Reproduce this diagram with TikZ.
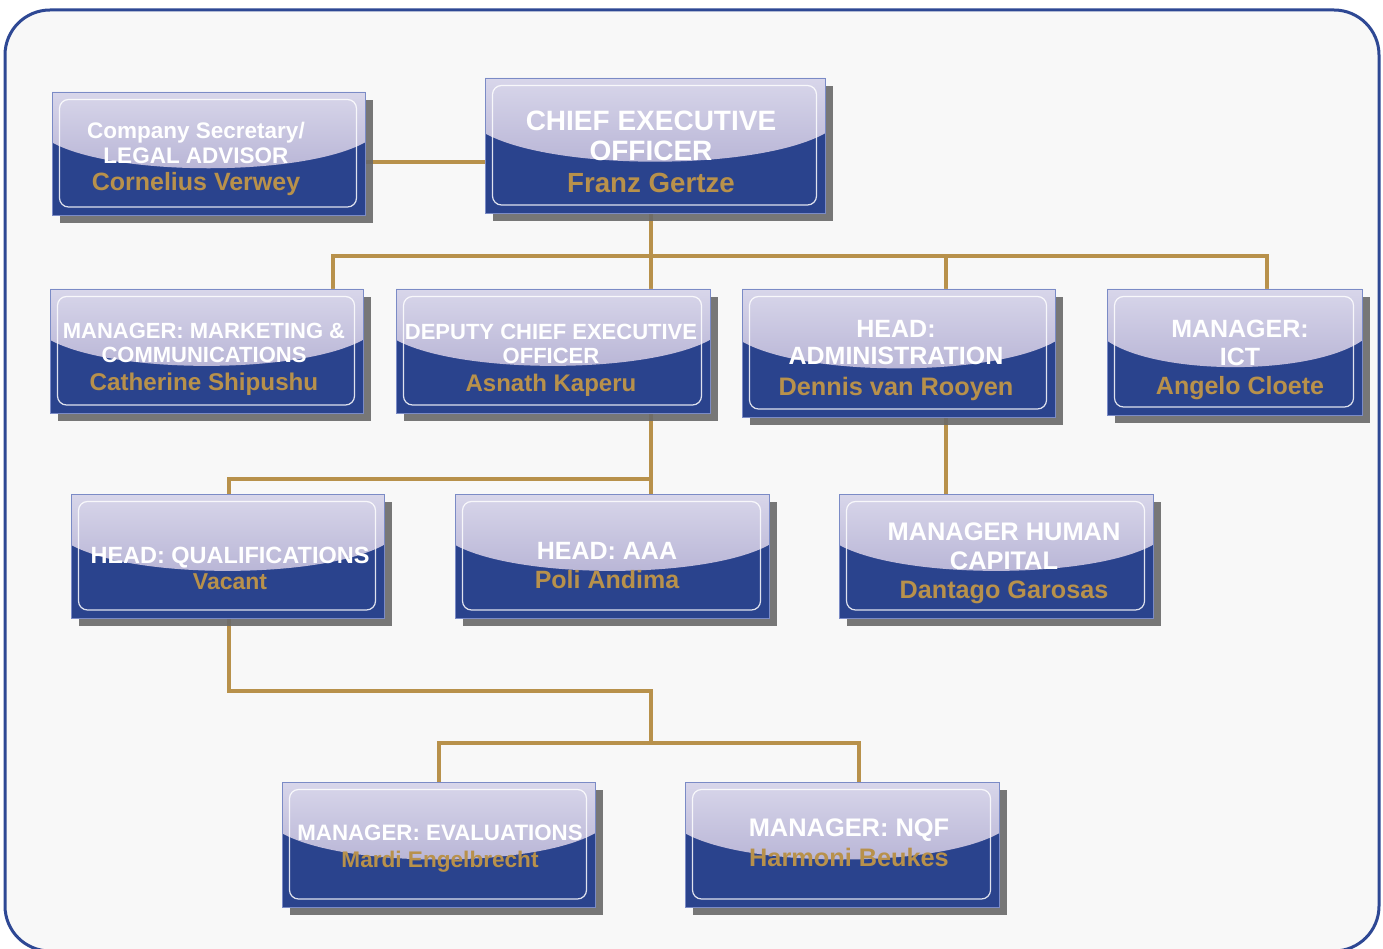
\documentclass[tikz,border=0pt]{standalone}
\usepackage{fontspec}
\setmainfont{Liberation Sans}
\usetikzlibrary{calc,shadows}
\definecolor{boxblue}{HTML}{2A438D}
\definecolor{boxedge}{HTML}{7B8BC6}
\definecolor{gold}{HTML}{B8914B}
\definecolor{frameblue}{HTML}{2E4894}
\definecolor{bgfill}{HTML}{F8F8F8}
\definecolor{glosstop}{HTML}{D8D6EA}
\definecolor{glossbot}{HTML}{A7A3CB}
\definecolor{shadowgray}{HTML}{6A6A6A}
\pgfdeclarelayer{bglayer}
\pgfdeclarelayer{connlayer}
\pgfsetlayers{bglayer,connlayer,main}
\tikzset{
  orgbox/.style={fill=boxblue, draw=boxedge, line width=0.8pt, inner sep=0pt, outer sep=0pt,
    drop shadow={shadow xshift=8pt, shadow yshift=-8pt, fill=shadowgray, opacity=0.9},
    path picture={
      \path let \p1=(path picture bounding box.north west),
                \p2=(path picture bounding box.south east) in
        [top color=glosstop, bottom color=glossbot]
        (\x1,\y1) -- (\x2,\y1) -- (\x2,{\y1-0.41*(\y1-\y2)})
        .. controls ({\x2-0.2*(\x2-\x1)},{\y1-0.69*(\y1-\y2)}) and ({\x1+0.2*(\x2-\x1)},{\y1-0.69*(\y1-\y2)}) ..
        (\x1,{\y1-0.41*(\y1-\y2)}) -- cycle;
      \path let \p1=(path picture bounding box.north west),
                \p2=(path picture bounding box.south east) in
        [draw=white, draw opacity=0.85, line width=1.2pt, rounded corners=9pt]
        ({\x1+7.5pt},{\y1-7.5pt}) rectangle ({\x2-8.5pt},{\y2+8pt});
    }},
  conn/.style={draw=gold, line width=4.5pt},
  ttl/.style={inner sep=0pt, text=white},
  nm/.style={inner sep=0pt, text=gold}
}
\newcommand\orgbx[5]{\node[orgbox, minimum width={(#4-#2)*1pt}, minimum height={(#5-#3)*1pt}] (#1) at ({(#2+#4)/2},{(#3+#5)/2}) {};}
\newcommand\txtl[6]{\node[#5, anchor=base, font=\fontsize{#4}{#4}\selectfont\bfseries] (#1) at (#2,{#3+0.358*#4}) {#6};}
\begin{document}
\begin{tikzpicture}[x=1pt,y=-1pt]
\useasboundingbox (0,0) rectangle (1383,949);
\begin{pgfonlayer}{bglayer}
\fill[white] (0,0) rectangle (1383,949);
\draw[line width=3pt, draw=frameblue, fill=bgfill, rounded corners=45pt] (5,10) rectangle (1379,951);
\end{pgfonlayer}

% boxes
\orgbx{cosec}{52}{92}{365}{215}
\orgbx{ceo}{485}{78}{825}{213}
\orgbx{mkt}{50}{289}{363}{413}
\orgbx{dep}{396}{289}{710}{413}
\orgbx{adm}{742}{289}{1055}{417}
\orgbx{ict}{1107}{289}{1362}{415}
\orgbx{hq}{71}{494}{384}{618}
\orgbx{aaa}{455}{494}{769}{618}
\orgbx{hc}{839}{494}{1153}{618}
\orgbx{ev}{282}{782}{595}{907}
\orgbx{nqf}{685}{782}{999}{907}

% texts
\txtl{cosec1}{196}{130}{22.5}{ttl}{Company Secretary/}
\txtl{cosec2}{196}{155}{22.5}{ttl}{LEGAL ADVISOR}
\txtl{cosec3}{196}{182}{25}{nm}{Cornelius Verwey}

\txtl{ceo1}{651}{120}{28}{ttl}{CHIEF EXECUTIVE}
\txtl{ceo2}{651}{150}{28}{ttl}{OFFICER}
\txtl{ceo3}{651}{183}{27.7}{nm}{Franz Gertze}

\txtl{mkt1}{204}{331}{22}{ttl}{MANAGER: MARKETING \&}
\txtl{mkt2}{204}{355}{22}{ttl}{COMMUNICATIONS}
\txtl{mkt3}{204}{382}{24.2}{nm}{Catherine Shipushu}

\txtl{dep1}{551}{332}{22}{ttl}{DEPUTY CHIEF EXECUTIVE}
\txtl{dep2}{551}{356}{22}{ttl}{OFFICER}
\txtl{dep3}{551}{383}{24}{nm}{Asnath Kaperu}

\txtl{adm1}{896}{329}{25}{ttl}{HEAD:}
\txtl{adm2}{896}{356}{25}{ttl}{ADMINISTRATION}
\txtl{adm3}{896}{386}{25.3}{nm}{Dennis van Rooyen}

\txtl{ict1}{1240}{329}{25}{ttl}{MANAGER:}
\txtl{ict2}{1240}{357}{25}{ttl}{ICT}
\txtl{ict3}{1240}{386}{25}{nm}{Angelo Cloete}

\txtl{hq1}{230}{555}{23.5}{ttl}{HEAD: QUALIFICATIONS}
\txtl{hq2}{230}{581}{23}{nm}{Vacant}

\txtl{aaa1}{607}{551}{25}{ttl}{HEAD: AAA}
\txtl{aaa2}{607}{580}{25}{nm}{Poli Andima}

\txtl{hc1}{1004}{531}{25.4}{ttl}{MANAGER HUMAN}
\txtl{hc2}{1004}{560}{25.4}{ttl}{CAPITAL}
\txtl{hc3}{1004}{589}{25.2}{nm}{Dantago Garosas}

\txtl{ev1}{440}{833}{22.3}{ttl}{MANAGER: EVALUATIONS}
\txtl{ev2}{440}{859}{22.6}{nm}{Mardi Engelbrecht}

\txtl{nqf1}{849}{827}{25.4}{ttl}{MANAGER: NQF}
\txtl{nqf2}{849}{857}{25.3}{nm}{Harmoni Beukes}

% connectors
\coordinate (hcs) at (0,162);
\coordinate (b1l) at (333,256);
\coordinate (b1c) at (651,256);
\coordinate (b1a) at (946,256);
\coordinate (b1r) at (1267,256);
\coordinate (b2l) at (229,479);
\coordinate (b3) at (651,691);
\coordinate (b4l) at (439,743);
\coordinate (b4r) at (859,743);
\begin{pgfonlayer}{connlayer}
\draw[conn] (cosec.east |- hcs) -- (ceo.west |- hcs);
\draw[conn] (b1c |- ceo.south) -- (b1c |- dep.north);
\draw[conn] (b1l |- mkt.north) -- (b1l) -- (b1r) -- (b1r |- ict.north);
\draw[conn] (b1a) -- (b1a |- adm.north);
\draw[conn] (b1c |- dep.south) -- (b1c |- aaa.north);
\draw[conn] (b2l |- hq.north) -- (b2l) -- (b1c |- b2l);
\draw[conn] (b1a |- adm.south) -- (b1a |- hc.north);
\draw[conn] (b2l |- hq.south) |- (b3) -- (b3 |- b4l);
\draw[conn] (b4l |- ev.north) -- (b4l) -- (b4r) -- (b4r |- nqf.north);
\end{pgfonlayer}
\end{tikzpicture}
\end{document}
